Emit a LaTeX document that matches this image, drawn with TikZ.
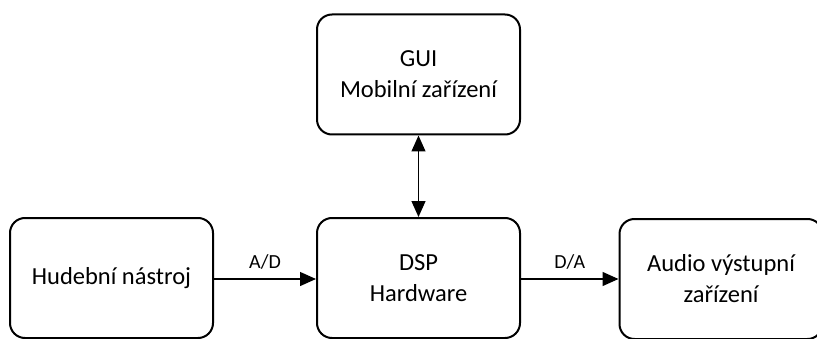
\documentclass[tikz,border=0pt]{standalone}
\usepackage{fontspec}
\setmainfont{Carlito}
\usetikzlibrary{arrows.meta}
\tikzset{
  blok/.style={draw, line width=2pt, rounded corners=15pt, minimum width=203pt,
    minimum height=120pt, align=center, font=\fontsize{24.5}{31}\selectfont},
  popis/.style={font=\fontsize{20}{24}\selectfont},
}
\begin{document}
\begin{tikzpicture}[x=1pt, y=1pt]
        \useasboundingbox (0, 0) rectangle (817, 338);
        \clip (0, 0) rectangle (817, 338);

        \node[blok] (gui) at (418.5, 263.5) {GUI\\Mobilní zařízení};
        \node[blok] (dsp) at (418.5, 60) {DSP\\Hardware};
        \node[blok] (nastroj) at (111.5, 60) {Hudební nástroj};
        \node[blok] (vystup) at (721, 59) {Audio výstupní\\zařízení};

        \begin{scope}[every path/.style={line width=1.3pt, -{Triangle[length=16pt, width=14pt]}}]
        \draw (nastroj.east |- 0, 59) -- (dsp.west |- 0, 59) node[midway, above=6pt, popis] {A/D};
        \draw (dsp.east |- 0, 59) -- (vystup.west |- 0, 59) node[midway, above=6pt, popis] {D/A};
        \draw[{Triangle[length=16pt, width=14pt]}-{Triangle[length=16pt, width=14pt]}] (gui) -- (dsp);
        \end{scope}

        \end{tikzpicture}
\end{document}
